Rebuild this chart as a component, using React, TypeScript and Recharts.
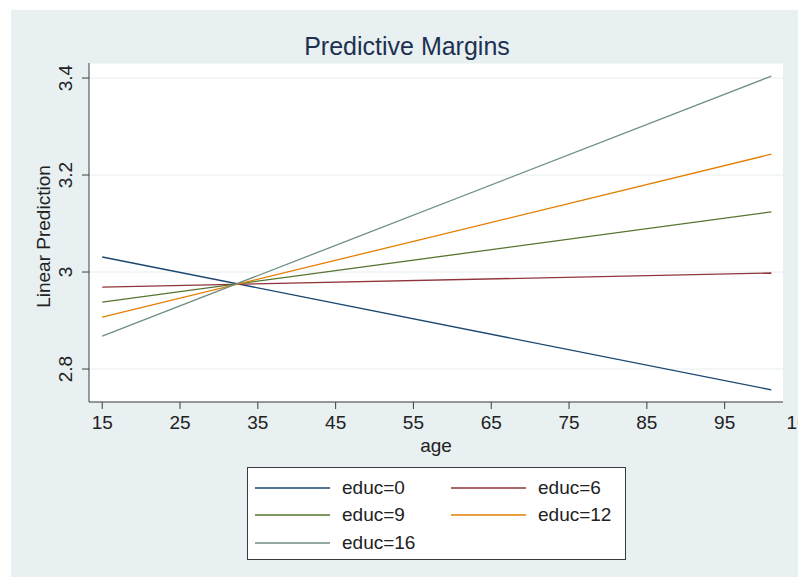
import React from "react";
import {
  LineChart,
  Line,
  XAxis,
  YAxis,
  CartesianGrid,
  Legend,
} from "recharts";

// margins of linear prediction by age, one series per educ level
const ages = [15, 101];
const educ0 = [3.031, 2.757];
const educ6 = [2.969, 2.998];
const educ9 = [2.938, 3.124];
const educ12 = [2.907, 3.243];
const educ16 = [2.868, 3.404];

const xTicks = [15, 25, 35, 45, 55, 65, 75, 85, 95, 105];
const yTicks = [2.8, 3, 3.2, 3.4];

const series = [
  { key: "educ0", name: "educ=0", color: "#1a476f" },
  { key: "educ6", name: "educ=6", color: "#90353b" },
  { key: "educ9", name: "educ=9", color: "#55752f" },
  { key: "educ12", name: "educ=12", color: "#e37e00" },
  { key: "educ16", name: "educ=16", color: "#6e8e84" },
];

const data = ages.map((age, i) => ({
  age,
  educ0: educ0[i],
  educ6: educ6[i],
  educ9: educ9[i],
  educ12: educ12[i],
  educ16: educ16[i],
}));

const FONT = '"Liberation Sans", Arial, sans-serif';
const TEXT = "#222222";
const AXIS = "#3c3c3c";
const BG = "#e8f0f2";

const YTick = (props: any) => {
  const { x, y, payload } = props;
  const cx = x - 14;
  return (
    <text
      x={cx}
      y={y}
      transform={`rotate(-90, ${cx}, ${y})`}
      textAnchor="middle"
      dominantBaseline="central"
      fontSize={19}
      fontFamily={FONT}
      fill={TEXT}
    >
      {payload.value}
    </text>
  );
};

const YLabel = (props: any) => {
  const { viewBox } = props;
  const cx = viewBox.x + 33;
  const cy = viewBox.y + viewBox.height / 2 + 4;
  return (
    <text
      x={cx}
      y={cy}
      transform={`rotate(-90, ${cx}, ${cy})`}
      textAnchor="middle"
      dominantBaseline="central"
      fontSize={19}
      fontFamily={FONT}
      fill={TEXT}
    >
      Linear Prediction
    </text>
  );
};

const renderLegend = (props: any) => {
  const order = series.map((s) => s.name);
  const payload = [...(props.payload || [])].sort(
    (a: any, b: any) => order.indexOf(a.value) - order.indexOf(b.value)
  );
  return (
    <div
      style={{
        boxSizing: "border-box",
        width: 379,
        height: 93,
        background: "#ffffff",
        border: "1px solid #3a3a3a",
        paddingTop: 6,
        paddingLeft: 7,
        display: "grid",
        gridTemplateColumns: "196px 196px",
        gridAutoRows: "27.5px",
        fontFamily: FONT,
        fontSize: 19,
        color: TEXT,
      }}
    >
      {payload.map((p: any) => (
        <div key={p.value} style={{ display: "flex", alignItems: "center" }}>
          <svg width={75} height={4} style={{ marginRight: 12 }}>
            <line x1={0} y1={2} x2={75} y2={2} stroke={p.color} strokeWidth={1.3} />
          </svg>
          <span>{p.value}</span>
        </div>
      ))}
    </div>
  );
};

export default function App() {
  return (
    <div
      style={{
        position: "absolute",
        left: 0,
        top: 0,
        width: 798,
        height: 577,
        overflow: "hidden",
        background: "#ffffff",
      }}
    >
      <div
        style={{
          position: "absolute",
          left: 11,
          top: 10,
          right: 0,
          bottom: 0,
          background: BG,
        }}
      />
      <div
        style={{
          position: "absolute",
          left: 16,
          right: 0,
          top: 32,
          textAlign: "center",
          fontFamily: FONT,
          fontSize: 25,
          lineHeight: "28px",
          color: "#1e3050",
        }}
      >
        Predictive Margins
      </div>
      <div style={{ position: "absolute", left: 0, top: 0 }}>
        <LineChart
          width={830}
          height={577}
          data={data}
          margin={{ top: 63, right: 47, left: 10, bottom: 123 }}
        >
          <CartesianGrid
            vertical={false}
            stroke="#e6eef0"
            fill="#ffffff"
          />
          <XAxis
            dataKey="age"
            type="number"
            domain={[13.3, 102.5]}
            ticks={xTicks}
            interval={0}
            height={52}
            tickSize={7}
            tickMargin={7}
            stroke={AXIS}
            tick={{ fontSize: 19, fontFamily: FONT, fill: TEXT }}
            label={{
              value: "age",
              position: "insideBottom",
              offset: 2,
              fontSize: 19,
              fontFamily: FONT,
              fill: TEXT,
            }}
          />
          <YAxis
            type="number"
            domain={[2.732, 3.431]}
            ticks={yTicks}
            interval={0}
            width={79}
            tickSize={7}
            tickMargin={2}
            stroke={AXIS}
            tick={<YTick />}
            label={<YLabel />}
          />
          <Legend
            layout="horizontal"
            verticalAlign="middle"
            align="center"
            content={renderLegend}
            wrapperStyle={{ left: 247, top: 467, width: 379, height: 93 }}
          />
          {series.map((s) => (
            <Line
              key={s.key}
              dataKey={s.key}
              name={s.name}
              stroke={s.color}
              strokeWidth={1.3}
              dot={false}
              activeDot={false}
              isAnimationActive={false}
            />
          ))}
        </LineChart>
      </div>
    </div>
  );
}
